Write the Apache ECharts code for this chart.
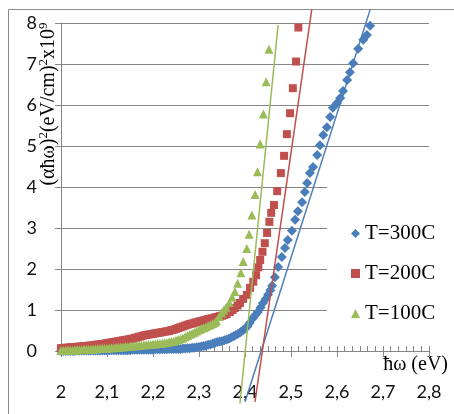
<!DOCTYPE html>
<html>
<head>
<meta charset="utf-8">
<script src="https://cdn.jsdelivr.net/npm/echarts@6/dist/echarts.min.js"></script>
<style>
html,body{margin:0;padding:0;background:#fff;}
#chart{width:454px;height:414px;}
</style>
</head>
<body>
<div id="chart"></div>
<script>
// Tick values
const xTicks = [2, 2.1, 2.2, 2.3, 2.4, 2.5, 2.6, 2.7, 2.8];
const yTicks = [0, 1, 2, 3, 4, 5, 6, 7, 8];
const seriesNames = ['T=300C', 'T=200C', 'T=100C'];

// T=300C (blue diamonds): [hω (eV), (αhω)^2 x10^9]
const t300 = [[2.000,0.00],[2.005,0.00],[2.010,0.00],[2.015,0.00],[2.020,0.00],[2.025,0.00],[2.030,0.00],[2.035,0.01],[2.040,0.01],[2.045,0.01],[2.050,0.01],[2.055,0.01],[2.060,0.01],[2.065,0.01],[2.070,0.01],[2.075,0.01],[2.080,0.01],[2.085,0.01],[2.090,0.01],[2.095,0.01],[2.100,0.01],[2.105,0.02],[2.110,0.02],[2.115,0.02],[2.120,0.02],[2.125,0.02],[2.130,0.02],[2.135,0.02],[2.140,0.02],[2.145,0.02],[2.150,0.02],[2.155,0.03],[2.160,0.03],[2.165,0.03],[2.170,0.03],[2.175,0.03],[2.180,0.03],[2.185,0.03],[2.190,0.03],[2.195,0.03],[2.200,0.03],[2.205,0.04],[2.210,0.04],[2.215,0.04],[2.220,0.04],[2.225,0.04],[2.230,0.04],[2.235,0.05],[2.240,0.05],[2.245,0.05],[2.250,0.05],[2.255,0.05],[2.260,0.05],[2.265,0.06],[2.270,0.06],[2.275,0.07],[2.280,0.07],[2.285,0.08],[2.290,0.08],[2.295,0.09],[2.300,0.10],[2.305,0.11],[2.310,0.12],[2.315,0.13],[2.320,0.15],[2.325,0.16],[2.330,0.18],[2.335,0.20],[2.340,0.22],[2.345,0.23],[2.350,0.24],[2.355,0.26],[2.360,0.28],[2.365,0.30],[2.370,0.33],[2.375,0.36],[2.380,0.39],[2.385,0.42],[2.390,0.46],[2.395,0.50],[2.400,0.54],[2.405,0.60],[2.410,0.68],[2.417,0.80],[2.422,0.87],[2.428,0.95],[2.434,1.06],[2.439,1.17],[2.445,1.27],[2.450,1.37],[2.455,1.48],[2.459,1.59],[2.465,1.80],[2.472,2.05],[2.480,2.29],[2.487,2.51],[2.493,2.71],[2.502,2.93],[2.509,3.20],[2.515,3.41],[2.524,3.63],[2.530,3.88],[2.535,4.10],[2.541,4.34],[2.548,4.49],[2.557,4.78],[2.563,5.02],[2.570,5.27],[2.578,5.46],[2.585,5.71],[2.591,5.93],[2.600,6.05],[2.607,6.17],[2.613,6.34],[2.622,6.61],[2.628,6.80],[2.635,7.02],[2.646,7.37],[2.657,7.59],[2.665,7.71],[2.672,7.93]];

// T=200C (red squares)
const t200 = [[2.000,0.07],[2.005,0.07],[2.010,0.08],[2.015,0.08],[2.020,0.09],[2.025,0.09],[2.030,0.10],[2.035,0.10],[2.040,0.11],[2.045,0.11],[2.050,0.12],[2.055,0.12],[2.060,0.13],[2.065,0.13],[2.070,0.14],[2.075,0.15],[2.080,0.16],[2.085,0.16],[2.090,0.17],[2.095,0.18],[2.100,0.19],[2.105,0.20],[2.110,0.21],[2.115,0.22],[2.120,0.23],[2.125,0.24],[2.130,0.25],[2.135,0.26],[2.140,0.27],[2.145,0.28],[2.150,0.29],[2.155,0.30],[2.160,0.32],[2.165,0.33],[2.170,0.35],[2.175,0.36],[2.180,0.38],[2.185,0.39],[2.190,0.40],[2.195,0.41],[2.200,0.42],[2.205,0.43],[2.210,0.44],[2.215,0.45],[2.220,0.46],[2.225,0.47],[2.230,0.48],[2.235,0.49],[2.240,0.51],[2.245,0.52],[2.250,0.54],[2.255,0.56],[2.260,0.58],[2.265,0.60],[2.270,0.62],[2.275,0.64],[2.280,0.66],[2.285,0.67],[2.290,0.69],[2.295,0.70],[2.300,0.72],[2.305,0.73],[2.310,0.75],[2.315,0.76],[2.320,0.78],[2.325,0.79],[2.330,0.80],[2.335,0.82],[2.340,0.83],[2.345,0.85],[2.350,0.86],[2.355,0.88],[2.360,0.90],[2.367,0.95],[2.373,1.00],[2.378,1.05],[2.384,1.11],[2.389,1.17],[2.396,1.27],[2.404,1.37],[2.411,1.54],[2.418,1.69],[2.424,1.85],[2.429,2.04],[2.433,2.22],[2.438,2.42],[2.443,2.63],[2.448,2.88],[2.453,3.15],[2.457,3.37],[2.463,3.56],[2.470,3.90],[2.478,4.34],[2.485,4.76],[2.491,5.29],[2.498,5.80],[2.504,6.41],[2.511,7.06],[2.516,7.89]];

// T=100C (green triangles)
const t100 = [[2.000,0.01],[2.005,0.01],[2.010,0.02],[2.015,0.02],[2.020,0.02],[2.025,0.02],[2.030,0.03],[2.035,0.03],[2.040,0.03],[2.045,0.03],[2.050,0.04],[2.055,0.04],[2.060,0.04],[2.065,0.05],[2.070,0.05],[2.075,0.05],[2.080,0.06],[2.085,0.06],[2.090,0.06],[2.095,0.07],[2.100,0.07],[2.105,0.07],[2.110,0.08],[2.115,0.08],[2.120,0.09],[2.125,0.09],[2.130,0.10],[2.135,0.10],[2.140,0.11],[2.145,0.11],[2.150,0.12],[2.155,0.12],[2.160,0.13],[2.165,0.13],[2.170,0.14],[2.175,0.14],[2.180,0.15],[2.185,0.15],[2.190,0.16],[2.195,0.16],[2.200,0.17],[2.205,0.17],[2.210,0.18],[2.215,0.18],[2.220,0.19],[2.225,0.20],[2.230,0.21],[2.235,0.22],[2.240,0.23],[2.245,0.24],[2.250,0.26],[2.255,0.28],[2.260,0.30],[2.265,0.32],[2.270,0.35],[2.275,0.38],[2.280,0.41],[2.285,0.43],[2.290,0.46],[2.295,0.49],[2.300,0.52],[2.305,0.54],[2.310,0.57],[2.315,0.59],[2.320,0.62],[2.325,0.64],[2.330,0.67],[2.335,0.70],[2.338,0.74],[2.344,0.84],[2.349,0.93],[2.354,1.00],[2.359,1.07],[2.366,1.18],[2.372,1.32],[2.378,1.45],[2.384,1.65],[2.391,1.91],[2.396,2.18],[2.404,2.50],[2.409,2.85],[2.415,3.32],[2.422,3.82],[2.427,4.37],[2.433,5.05],[2.440,5.78],[2.446,6.57],[2.452,7.36]];

// Linear fit lines (end points)
const fit300 = [[2.400,-1.24],[2.672,8.32]];
const fit200 = [[2.4217,-1.24],[2.545,8.32]];
const fit100 = [[2.389,-1.28],[2.472,7.95]];

const colors = ['#4A7EBB', '#C0504D', '#9BBB59'];
const fmt = v => String(Math.round(v * 10) / 10).replace('.', ',');

const chart = echarts.init(document.getElementById('chart'), null, {renderer: 'canvas'});
const labelFont = {fontFamily: 'Lato', fontSize: 18, color: '#111'};

chart.setOption({
  animation: false,
  backgroundColor: '#fff',
  grid: {left: 61, right: 25, top: 23, bottom: 63, containLabel: false, outerBoundsMode: 'none'},
  xAxis: [{
    type: 'value', min: xTicks[0], max: xTicks[xTicks.length - 1], interval: 0.1,
    axisLine: {show: true, onZero: false, lineStyle: {color: '#868686', width: 1}},
    axisTick: {show: true, inside: false, length: 6, lineStyle: {color: '#868686'}},
    axisLabel: Object.assign({margin: 32, formatter: fmt}, labelFont),
    splitLine: {show: false}
  }, {
    type: 'value', min: xTicks[0], max: xTicks[xTicks.length - 1], interval: 0.1,
    position: 'bottom',
    axisLine: {show: false, onZero: false},
    axisTick: {show: true, inside: true, length: 5, lineStyle: {color: '#868686'}},
    minorTick: {show: true, splitNumber: 6, length: 5, lineStyle: {color: '#868686'}},
    axisLabel: {show: false},
    splitLine: {show: false}
  }],
  yAxis: {
    type: 'value', min: yTicks[0], max: yTicks[yTicks.length - 1], interval: 1,
    axisLine: {show: true, onZero: false, lineStyle: {color: '#868686', width: 1}},
    axisTick: {show: true, inside: false, length: 6, lineStyle: {color: '#868686'}},
    axisLabel: Object.assign({margin: 24}, labelFont),
    splitLine: {show: true, lineStyle: {color: '#868686', width: 1}}
  },
  legend: {
    orient: 'vertical', left: 327, top: 173,
    padding: [50, 20, 22, 24],
    backgroundColor: '#fff',
    itemWidth: 9, itemHeight: 9, itemGap: 19,
    data: seriesNames,
    textStyle: {fontFamily: 'Liberation Serif', fontSize: 21, color: '#000', lineHeight: 20}
  },
  graphic: [
    {type: 'rect', silent: true, z: -1, shape: {x: 8.5, y: 9.5, width: 600, height: 600},
     style: {fill: 'none', stroke: '#8c8c8c', lineWidth: 1}},
    {type: 'text', silent: true, x: 48, y: 104, rotation: Math.PI / 2,
     style: {
       text: '{a|(αħω)}{b|2}{a|(eV/cm)}{b|2}{a|x10}{b|9}',
       align: 'center', verticalAlign: 'middle',
       rich: {
         a: {fontFamily: 'Liberation Serif', fontSize: 20, lineHeight: 22, fill: '#000', verticalAlign: 'bottom'},
         b: {fontFamily: 'Liberation Serif', fontSize: 13, lineHeight: 13, fill: '#000', verticalAlign: 'top'}
       }
     }},
    {type: 'text', silent: true, x: 448, y: 365,
     style: {text: 'ħω (eV)', fontFamily: 'Liberation Serif', fontSize: 20, fill: '#000',
             align: 'right', verticalAlign: 'middle'}}
  ],
  series: [
    {name: seriesNames[0], type: 'scatter', data: t300, symbol: 'diamond', symbolSize: 10,
     itemStyle: {color: colors[0], opacity: 1}, z: 2},
    {name: seriesNames[1], type: 'scatter', data: t200, symbol: 'rect', symbolSize: 8,
     itemStyle: {color: colors[1], opacity: 1}, z: 2},
    {name: seriesNames[2], type: 'scatter', data: t100, symbol: 'triangle', symbolSize: 9,
     itemStyle: {color: colors[2], opacity: 1}, z: 2},
    {name: 'fit300', type: 'line', data: fit300, symbol: 'none', clip: false, silent: true,
     lineStyle: {color: colors[0], width: 1.5}, z: 3},
    {name: 'fit200', type: 'line', data: fit200, symbol: 'none', clip: false, silent: true,
     lineStyle: {color: colors[1], width: 1.5}, z: 3},
    {name: 'fit100', type: 'line', data: fit100, symbol: 'none', clip: false, silent: true,
     lineStyle: {color: colors[2], width: 1.5}, z: 3}
  ]
});
</script>
</body>
</html>
